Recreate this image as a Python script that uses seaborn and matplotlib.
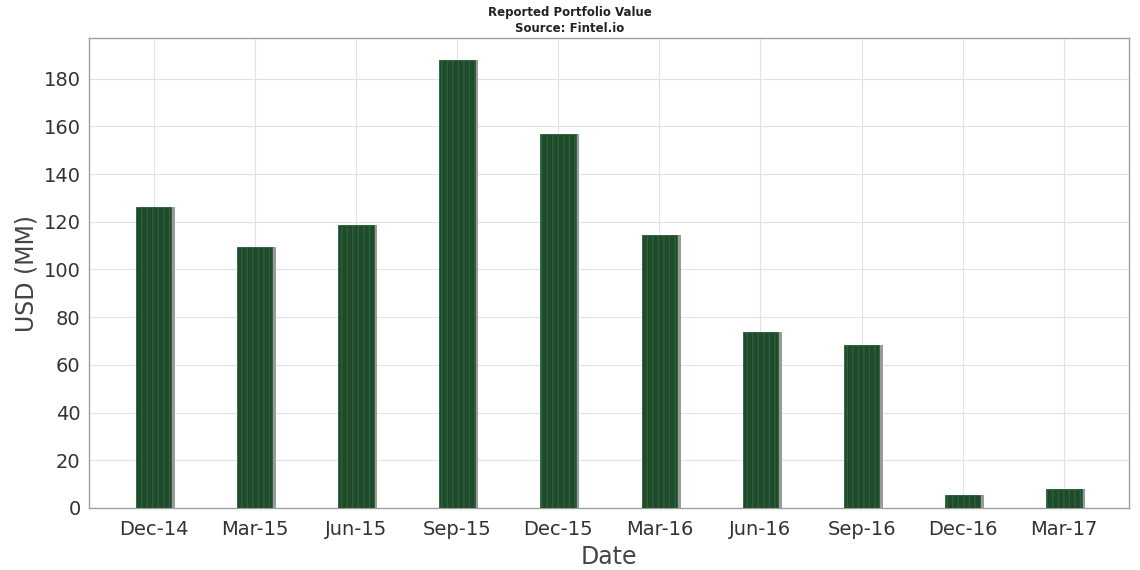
import matplotlib
matplotlib.use("Agg")
import matplotlib.pyplot as plt
import matplotlib.transforms as mtransforms
from matplotlib.patches import Rectangle
import seaborn as sns
import pandas as pd

dates = ["Dec-14", "Mar-15", "Jun-15", "Sep-15", "Dec-15", "Mar-16",
         "Jun-16", "Sep-16", "Dec-16", "Mar-17"]
values = [126.3, 109.5, 118.8, 188.0, 157.0, 114.6, 73.9, 68.4, 5.5, 8.0]

df = pd.DataFrame({"Date": dates, "USD (MM)": values})

sns.set_style("white")
plt.rcParams["font.family"] = ["DejaVu Sans"]
plt.rcParams["hatch.linewidth"] = 1.0

fig = plt.figure(figsize=(11.4, 5.7), dpi=100)
ax = fig.add_axes([0.078, 0.109, 0.912, 0.824])

sns.barplot(data=df, x="Date", y="USD (MM)", ax=ax, color="#1f4a2b",
            width=0.35, saturation=1, zorder=3)

# shadow + stripes
off = mtransforms.offset_copy(ax.transData, fig=fig, x=3.5, y=0, units="dots")
for p in list(ax.patches):
    p.set_edgecolor("#2c6238")
    p.set_linewidth(0.6)
    p.set_hatch("|||")
    sh = Rectangle(p.get_xy(), p.get_width(), p.get_height(), transform=off,
                   facecolor="#9a9a98", edgecolor="none", zorder=2)
    ax.add_patch(sh)

ax.set_xlim(-0.64, 9.64)
ax.set_ylim(0, 197)
ax.set_yticks(range(0, 181, 20))
ax.grid(True, color="#e2e2e2", linewidth=0.8, zorder=0)
ax.set_axisbelow(True)
for s in ax.spines.values():
    s.set_color("#a0a0a0")
    s.set_linewidth(1.0)
ax.tick_params(axis="both", labelsize=14, colors="#333333", length=0, pad=6)
ax.tick_params(axis="x", length=3, color="#bbbbbb")
ax.set_xlabel("Date", fontsize=17, color="#444444")
ax.set_ylabel("USD (MM)", fontsize=17, color="#444444")

fig.text(0.5, 0.989, "Reported Portfolio Value\nSource: Fintel.io", ha="center", va="top",
         fontsize=8.5, fontweight="bold", color="#222222", linespacing=1.25)

fig.savefig("out.png", dpi=100)
